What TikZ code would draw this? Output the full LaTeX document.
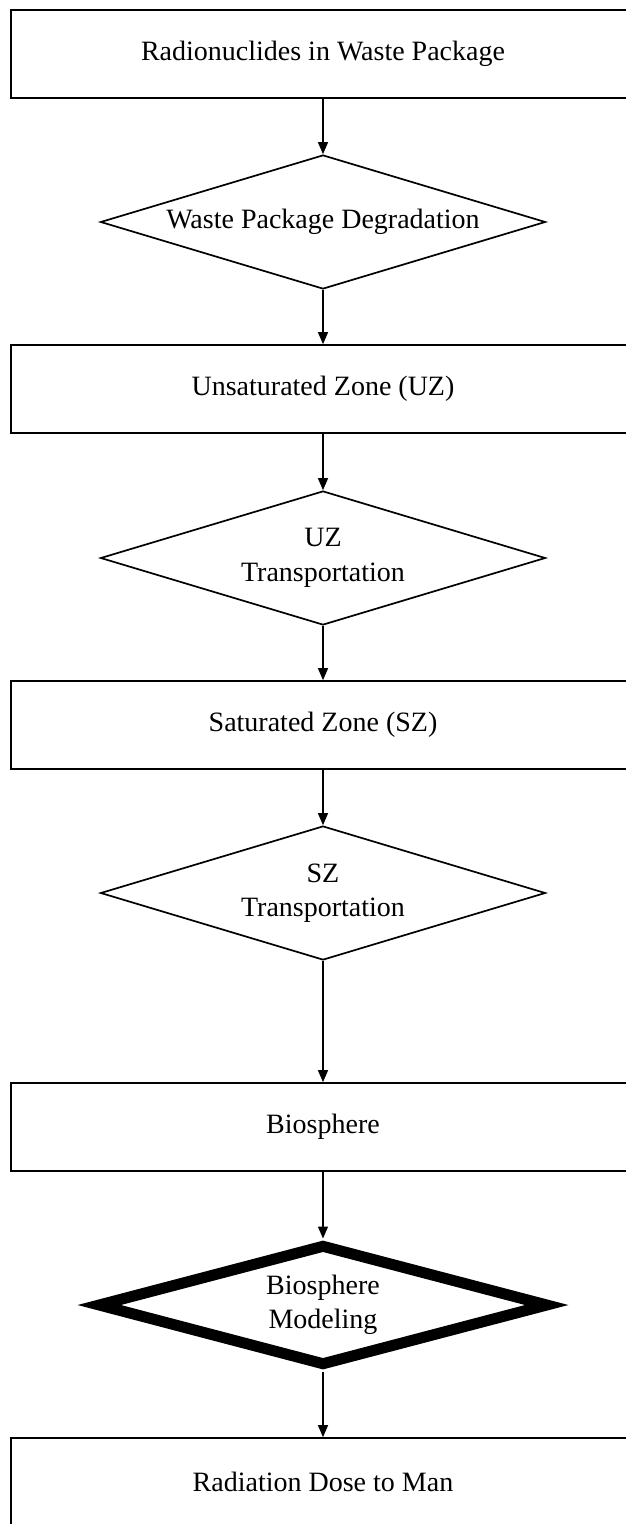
\documentclass[tikz,border=0pt]{standalone}
\usepackage{fontspec}
\setmainfont{Liberation Serif}
\usetikzlibrary{shapes.geometric,arrows.meta}
\begin{document}
\begin{tikzpicture}[x=1pt,y=-1pt,
  txt/.style={font=\fontsize{28}{34.5}\selectfont},
  box/.style={txt,draw,line width=1.7pt,minimum width=624pt,minimum height=88pt,inner sep=0pt},
  dia/.style={txt,draw,diamond,line width=1.7pt,shape aspect=3.3,minimum width=445pt,minimum height=134pt,inner sep=0pt,align=center},
  bolddia/.style={dia,line width=11pt,minimum width=452pt,minimum height=122pt},
  arr/.style={line width=1.2pt,-{Triangle[length=12pt,width=10pt]}}]
\useasboundingbox (0,0) rectangle (626,1524);
\node[box] (b1) at (323,54) {Radionuclides in Waste Package};
\node[dia] (d1) at (323,222) {Waste Package Degradation};
\node[box] (b2) at (323,389) {Unsaturated Zone (UZ)};
\node[dia] (d2) at (323,558) {UZ\\Transportation};
\node[box] (b3) at (323,725) {Saturated Zone (SZ)};
\node[dia] (d3) at (323,893) {SZ\\Transportation};
\node[box] (b4) at (323,1127) {Biosphere};
\node[bolddia] (d4) at (323,1305) {Biosphere\\Modeling};
\node[box] (b5) at (323,1482) {Radiation Dose to Man};
\draw[arr] (b1) -- (d1);
\draw[arr] (d1) -- (b2);
\draw[arr] (b2) -- (d2);
\draw[arr] (d2) -- (b3);
\draw[arr] (b3) -- (d3);
\draw[arr] (d3) -- (b4);
\draw[arr] (b4) -- (d4);
\draw[arr] (d4) -- (b5);
\end{tikzpicture}
\end{document}
